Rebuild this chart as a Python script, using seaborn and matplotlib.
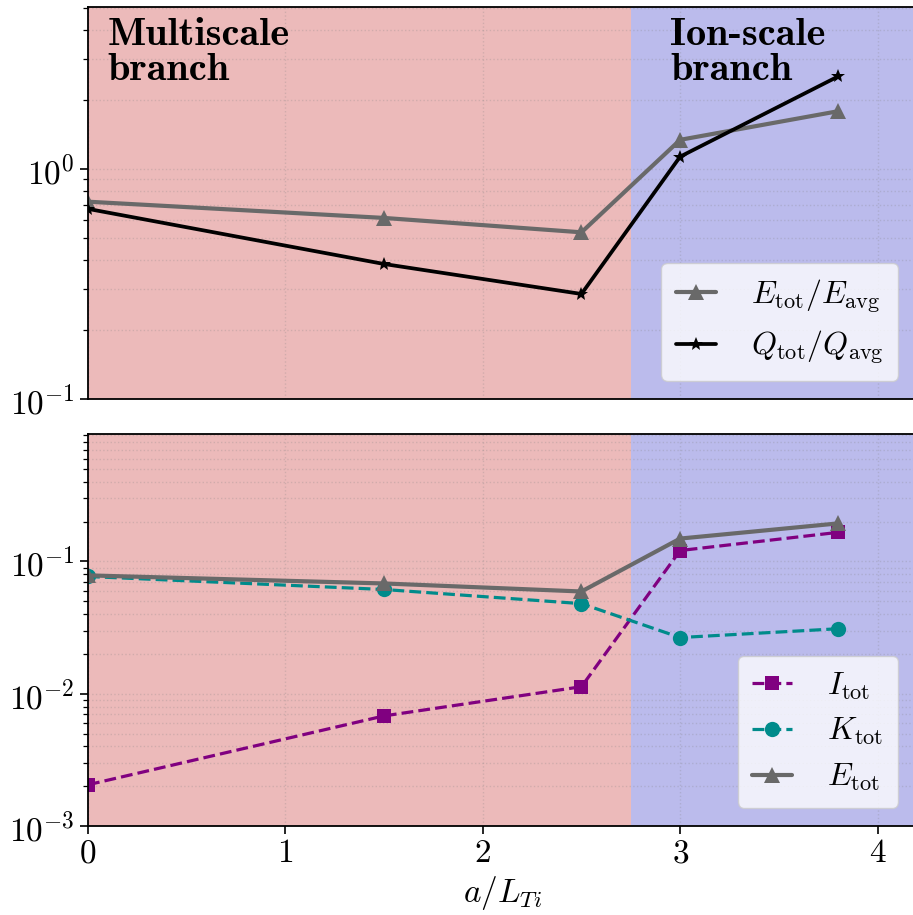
import numpy as np
import pandas as pd
import matplotlib
matplotlib.use("Agg")
import matplotlib.pyplot as plt
import matplotlib.transforms as mtrans
import seaborn as sns

# ---- data ----
a_LTi = [0.0, 1.5, 2.5, 3.0, 3.8]
E_ratio = [0.72, 0.612, 0.53, 1.337, 1.78]
Q_ratio = [0.67, 0.386, 0.286, 1.13, 2.52]
I_tot = [0.00205, 0.0068, 0.0113, 0.121, 0.166]
K_tot = [0.077, 0.0614, 0.048, 0.0266, 0.031]
E_tot = [0.0785, 0.0682, 0.0593, 0.149, 0.194]
branch_split = 2.75

sns.set_style("ticks")
plt.rcParams.update({
    "font.family": ["cmr10", "DejaVu Serif"],
    "mathtext.fontset": "cm",
    "axes.formatter.use_mathtext": True,
    "axes.unicode_minus": False,
    "font.size": 24,
    "text.color": "black",
    "axes.labelcolor": "black",
    "xtick.color": "black",
    "ytick.color": "black",
})

fig = plt.figure(figsize=(9.13, 9.15), dpi=100)
L = 88 / 913
R = 917 / 913
ax1 = fig.add_axes([L, 1 - 399 / 915, R - L, (399 - 7) / 915])
ax2 = fig.add_axes([L, 1 - 826 / 915, R - L, (826 - 434) / 915])

df_top = pd.DataFrame({"x": a_LTi, "E": E_ratio, "Q": Q_ratio})
df_bot = pd.DataFrame({"x": a_LTi, "I": I_tot, "K": K_tot, "E": E_tot})

for ax in (ax1, ax2):
    ax.axvspan(0, branch_split, color="#ecbaba", zorder=0, lw=0)
    ax.axvspan(branch_split, 4.2, color="#bbbbec", zorder=0, lw=0)
    ax.set_yscale("log")
    ax.set_xlim(0, 4.2)
    ax.grid(True, which="both", axis="y", ls=":", color="gray", alpha=0.25, lw=1)
    ax.grid(True, which="major", axis="x", ls=":", color="gray", alpha=0.25, lw=1)
    ax.set_axisbelow(True)
    for s in ax.spines.values():
        s.set_color("black")
        s.set_linewidth(1.3)
    ax.tick_params(which="major", length=6, width=1.2, labelsize=24)
    ax.tick_params(which="minor", length=3.5, width=0.9)
    ax.set_xticks([0, 1, 2, 3, 4])

leg_kw = dict(loc="lower right", fontsize=23, frameon=True, facecolor="white",
              framealpha=0.78, edgecolor="#cccccc", handlelength=1.25,
              handletextpad=1.1, borderpad=0.45, labelspacing=0.45,
              borderaxespad=0.0, bbox_to_anchor=(0.977, 0.047))

sns.lineplot(data=df_top, x="x", y="E", ax=ax1, color="dimgray", marker="^",
             markersize=11, markeredgewidth=0, lw=3, label=r"$E_\mathrm{tot}/E_\mathrm{avg}$")
sns.lineplot(data=df_top, x="x", y="Q", ax=ax1, color="black", marker="*",
             markersize=10, markeredgewidth=0, lw=2.7, label=r"$Q_\mathrm{tot}/Q_\mathrm{avg}$")
ax1.set_ylim(0.1, 5.05)
ax1.set_xlabel("")
ax1.set_ylabel("")
ax1.tick_params(axis="x", labelbottom=False, length=0)
ax1.legend(**leg_kw)
btf = mtrans.blended_transform_factory(ax1.transData, ax1.transAxes)
ax1.text(0.1, 0.972, "Multiscale\nbranch", transform=btf, color="black",
         fontfamily="cmb10", fontsize=29, va="top", ha="left", linespacing=1.0)
ax1.text(2.95, 0.972, "Ion-scale\nbranch", transform=btf, color="black",
         fontfamily="cmb10", fontsize=29, va="top", ha="left", linespacing=1.0)

sns.lineplot(data=df_bot, x="x", y="I", ax=ax2, color="purple", marker="s",
             markersize=10, markeredgewidth=0, lw=2.3, ls="--", label=r"$I_\mathrm{tot}$")
sns.lineplot(data=df_bot, x="x", y="K", ax=ax2, color="darkcyan", marker="o",
             markersize=11, markeredgewidth=0, lw=2.3, ls="--", label=r"$K_\mathrm{tot}$")
sns.lineplot(data=df_bot, x="x", y="E", ax=ax2, color="dimgray", marker="^",
             markersize=11, markeredgewidth=0, lw=3, label=r"$E_\mathrm{tot}$")
ax2.set_ylim(1e-3, 0.92)
ax2.set_ylabel("")
ax2.set_xlabel(r"$a/L_{Ti}$", fontsize=24, labelpad=4)
ax2.legend(**leg_kw)

fig.savefig("out.png", dpi=100)
